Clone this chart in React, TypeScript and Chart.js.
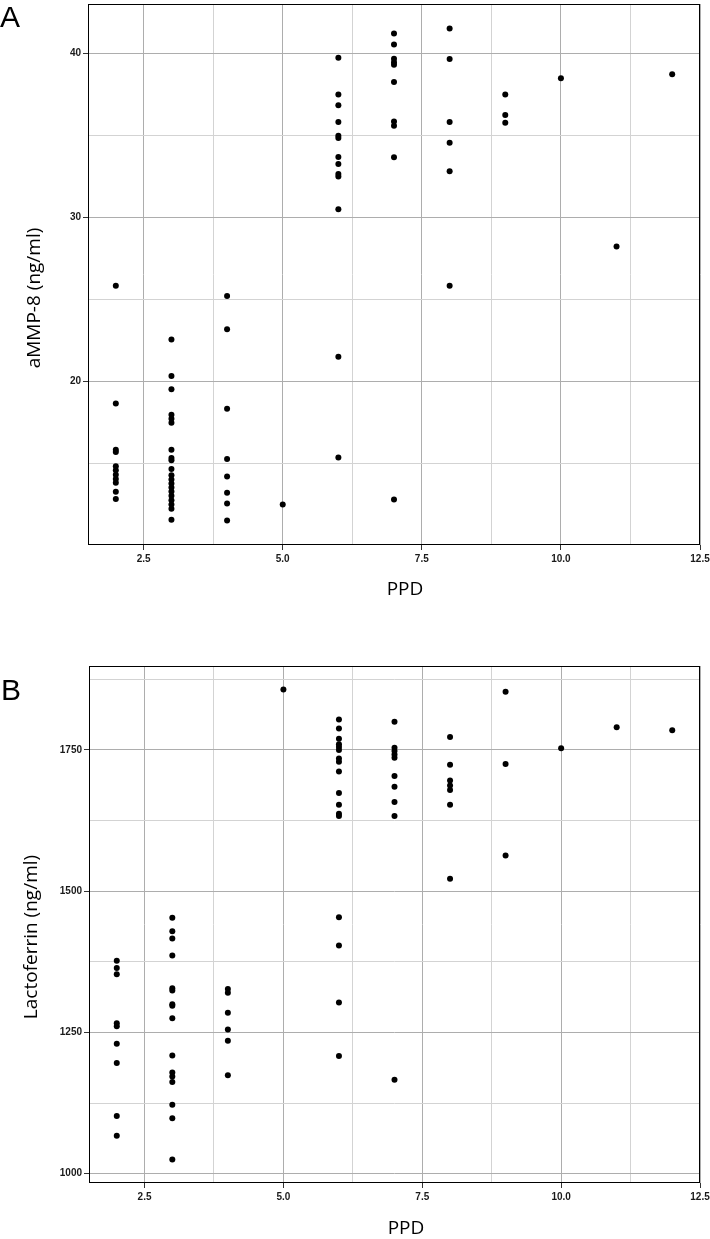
import React, { useEffect, useRef } from 'react';
import { Chart, registerables } from 'chart.js';

Chart.register(...registerables);

// ---- data ----
const PPD_LEVELS = [2, 3, 4, 5, 6, 7, 8, 9, 10, 11, 12];

const AMMP8_PPD2 = [25.85, 18.66, 15.85, 15.71, 14.84, 14.6, 14.33, 14.07, 13.83, 13.28, 12.85];
const AMMP8_PPD3 = [22.57, 20.34, 19.53, 17.98, 17.74, 17.5, 15.85, 15.34, 15.2, 14.68, 14.3, 14.03, 13.79, 13.54, 13.3, 13.05, 12.77, 12.51, 12.25, 11.58];
const AMMP8_PPD4 = [25.22, 23.2, 18.34, 15.28, 14.21, 13.22, 12.57, 11.54];
const AMMP8_PPD5 = [12.51];
const AMMP8_PPD6 = [39.74, 37.5, 36.84, 35.82, 34.99, 34.85, 33.69, 33.27, 32.66, 32.5, 30.51, 21.52, 15.37];
const AMMP8_PPD7 = [41.22, 40.55, 39.68, 39.47, 39.31, 38.26, 35.86, 35.6, 33.67, 12.82];
const AMMP8_PPD8 = [41.52, 39.66, 35.82, 34.56, 32.82, 25.85];
const AMMP8_PPD9 = [37.5, 36.25, 35.78];
const AMMP8_PPD10 = [38.5];
const AMMP8_PPD11 = [28.24];
const AMMP8_PPD12 = [38.74];
const AMMP8 = [AMMP8_PPD2, AMMP8_PPD3, AMMP8_PPD4, AMMP8_PPD5, AMMP8_PPD6, AMMP8_PPD7, AMMP8_PPD8, AMMP8_PPD9, AMMP8_PPD10, AMMP8_PPD11, AMMP8_PPD12];

const LF_PPD2 = [1377, 1364, 1353, 1266, 1261, 1230, 1196, 1102, 1067];
const LF_PPD3 = [1453, 1429, 1416, 1386, 1328, 1324, 1300, 1297, 1275, 1209, 1179, 1172, 1162, 1122, 1098, 1025];
const LF_PPD4 = [1327, 1320, 1285, 1255, 1235, 1174];
const LF_PPD5 = [1857];
const LF_PPD6 = [1804, 1788, 1770, 1760, 1755, 1750, 1735, 1729, 1712, 1674, 1653, 1637, 1633, 1454, 1404, 1303, 1208];
const LF_PPD7 = [1800, 1754, 1748, 1742, 1736, 1704, 1685, 1658, 1633, 1166];
const LF_PPD8 = [1773, 1724, 1696, 1687, 1679, 1653, 1522];
const LF_PPD9 = [1853, 1725, 1563];
const LF_PPD10 = [1753];
const LF_PPD11 = [1790];
const LF_PPD12 = [1785];
const LACTOFERRIN = [LF_PPD2, LF_PPD3, LF_PPD4, LF_PPD5, LF_PPD6, LF_PPD7, LF_PPD8, LF_PPD9, LF_PPD10, LF_PPD11, LF_PPD12];

const X_TICKS = [2.5, 3.75, 5, 6.25, 7.5, 8.75, 10, 11.25, 12.5];
const X_MAJOR = [2.5, 5, 7.5, 10, 12.5];
const Y_TICKS_A = [15, 20, 25, 30, 35, 40];
const Y_MAJOR_A = [20, 30, 40];
const Y_TICKS_B = [1000, 1125, 1250, 1375, 1500, 1625, 1750, 1875];
const Y_MAJOR_B = [1000, 1250, 1500, 1750];

const MAJOR_GRID = '#adadad';
const MINOR_GRID = '#d3d3d3';
const TICK_FONT = { family: '"Liberation Sans", Arial, sans-serif', size: 10, weight: 'bold' as const };

type PanelProps = {
  top: number;
  height: number;
  letter: string;
  letterPos: [number, number];
  yTitle: string;
  yTitlePos: [number, number];
  xTitlePos: [number, number];
  values: number[][];
  yTicks: number[];
  yMajor: number[];
  padTop: number;
  padRight: number;
  yAxisWidth: number;
  xAxisHeight: number;
};

function Panel(p: PanelProps) {
  const ref = useRef<HTMLCanvasElement>(null);
  useEffect(() => {
    if (!ref.current) return;
    const pts: { x: number; y: number }[] = [];
    PPD_LEVELS.forEach((ppd, i) => p.values[i].forEach((v) => pts.push({ x: ppd, y: v })));
    const all = p.values.flat();
    const lo = Math.min(...all);
    const hi = Math.max(...all);
    const ey = (hi - lo) * 0.05;
    const xl = Math.min(...PPD_LEVELS);
    const xh = Math.max(...PPD_LEVELS);
    const ex = (xh - xl) * 0.05;
    const isMajorX = (v: number) => X_MAJOR.some((m) => Math.abs(m - v) < 1e-6);
    const isMajorY = (v: number) => p.yMajor.some((m) => Math.abs(m - v) < 1e-6);

    const decor = {
      id: 'decor',
      afterDraw(chart: any) {
        const { ctx, chartArea: a } = chart;
        ctx.save();
        ctx.strokeStyle = '#000';
        ctx.lineWidth = 1;
        ctx.strokeRect(Math.round(a.left) + 0.5, Math.round(a.top) + 0.5, Math.round(a.right - a.left) - 1, Math.round(a.bottom - a.top) - 1);
        ctx.fillStyle = '#000';
        ctx.font = '30px "Liberation Sans", Arial, sans-serif';
        ctx.textAlign = 'left';
        ctx.textBaseline = 'alphabetic';
        ctx.fillText(p.letter, p.letterPos[0], p.letterPos[1]);
        ctx.font = '19px "Open Sans", sans-serif';
        ctx.textAlign = 'center';
        ctx.textBaseline = 'middle';
        ctx.fillText('PPD', p.xTitlePos[0], p.xTitlePos[1]);
        ctx.translate(p.yTitlePos[0], p.yTitlePos[1]);
        ctx.rotate(-Math.PI / 2);
        ctx.fillText(p.yTitle, 0, 0);
        ctx.restore();
      },
    };

    const chart = new Chart(ref.current, {
      type: 'scatter',
      data: {
        datasets: [
          {
            data: pts,
            pointRadius: 3,
            pointBackgroundColor: '#000',
            pointBorderWidth: 0,
            showLine: false,
          },
        ],
      },
      options: {
        animation: false,
        responsive: false,
        devicePixelRatio: 1,
        layout: { padding: { top: p.padTop, right: p.padRight, left: 0, bottom: 0 } },
        plugins: { legend: { display: false }, tooltip: { enabled: false } },
        scales: {
          x: {
            type: 'linear',
            min: xl - ex,
            max: xh + ex,
            afterBuildTicks: (s: any) => {
              s.ticks = X_TICKS.map((v) => ({ value: v }));
            },
            afterFit: (s: any) => {
              s.height = p.xAxisHeight;
              s.paddingLeft = 0;
              s.paddingRight = 0;
            },
            ticks: {
              autoSkip: false,
              maxRotation: 0,
              padding: 3,
              color: '#1a1a1a',
              font: TICK_FONT,
              callback: (v: any) => (isMajorX(Number(v)) ? Number(v).toFixed(1) : ''),
            },
            grid: {
              color: (c: any) => (isMajorX(c.tick?.value) ? MAJOR_GRID : MINOR_GRID),
              tickColor: (c: any) => (isMajorX(c.tick?.value) ? '#333' : 'rgba(0,0,0,0)'),
              tickLength: 5,
              lineWidth: 1,
            },
            border: { display: false },
          },
          y: {
            type: 'linear',
            min: lo - ey,
            max: hi + ey,
            afterBuildTicks: (s: any) => {
              s.ticks = p.yTicks.map((v) => ({ value: v }));
            },
            afterFit: (s: any) => {
              s.width = p.yAxisWidth;
              s.paddingTop = 0;
              s.paddingBottom = 0;
            },
            ticks: {
              autoSkip: false,
              padding: 2,
              color: '#1a1a1a',
              font: TICK_FONT,
              callback: (v: any) => (isMajorY(Number(v)) ? String(v) : ''),
            },
            grid: {
              color: (c: any) => (isMajorY(c.tick?.value) ? MAJOR_GRID : MINOR_GRID),
              tickColor: (c: any) => (isMajorY(c.tick?.value) ? '#333' : 'rgba(0,0,0,0)'),
              tickLength: 5,
              lineWidth: 1,
            },
            border: { display: false },
          },
        },
      } as any,
      plugins: [decor],
    });
    return () => chart.destroy();
  }, []);
  return (
    <div style={{ position: 'absolute', left: 0, top: p.top, width: 710, height: p.height }}>
      <canvas ref={ref} width={710} height={p.height} style={{ display: 'block', width: 710, height: p.height }} />
    </div>
  );
}

export default function App() {
  return (
    <div style={{ position: 'absolute', left: 0, top: 0, width: 710, height: 1239, background: '#fff' }}>
      <Panel
        top={0}
        height={605}
        letter="A"
        letterPos={[0, 27]}
        yTitle="aMMP-8 (ng/ml)"
        yTitlePos={[35, 298]}
        xTitlePos={[405, 590]}
        values={AMMP8}
        yTicks={Y_TICKS_A}
        yMajor={Y_MAJOR_A}
        padTop={3}
        padRight={10}
        yAxisWidth={88}
        xAxisHeight={60}
      />
      <Panel
        top={605}
        height={634}
        letter="B"
        letterPos={[1, 95]}
        yTitle="Lactoferrin (ng/ml)"
        yTitlePos={[32, 332]}
        xTitlePos={[406, 624]}
        values={LACTOFERRIN}
        yTicks={Y_TICKS_B}
        yMajor={Y_MAJOR_B}
        padTop={61}
        padRight={10}
        yAxisWidth={89}
        xAxisHeight={56}
      />
    </div>
  );
}
